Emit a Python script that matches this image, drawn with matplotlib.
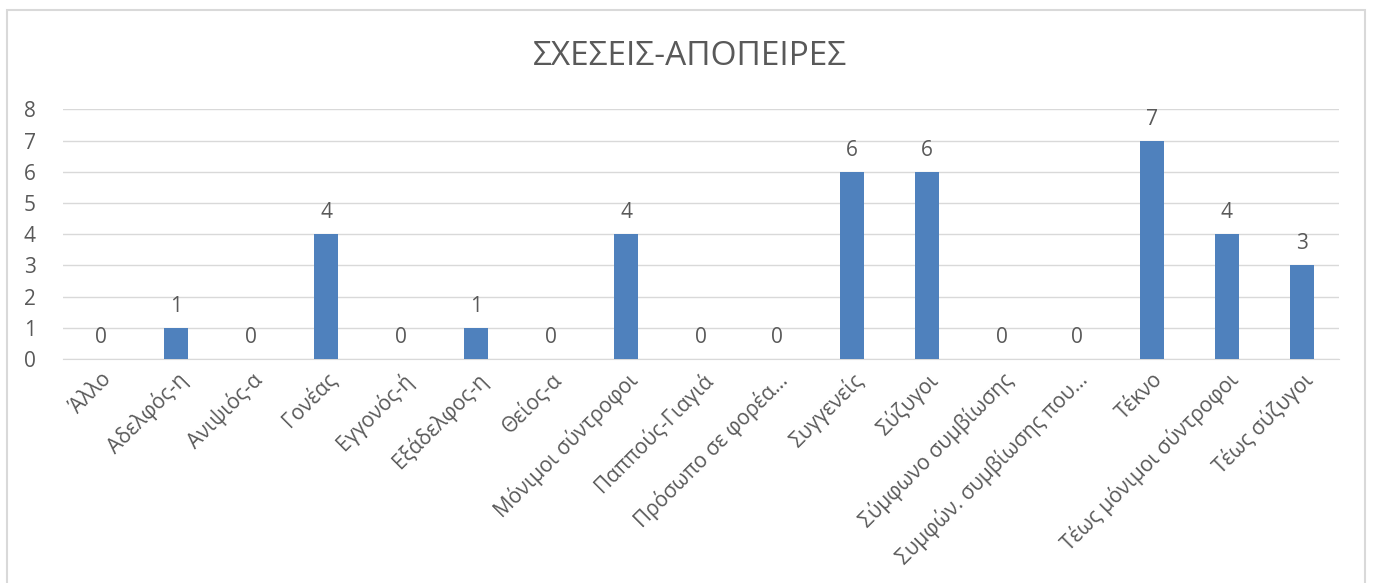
import matplotlib
matplotlib.use('Agg')
import matplotlib.pyplot as plt
from matplotlib.patches import Rectangle

plt.rcParams['font.family'] = ['Open Sans', 'DejaVu Sans']

categories = ['Άλλο', 'Αδελφός-η', 'Ανιψιός-α', 'Γονέας', 'Εγγονός-ή', 'Εξάδελφος-η',
              'Θείος-α', 'Μόνιμοι σύντροφοι', 'Παππούς-Γιαγιά', 'Πρόσωπο σε φορέα…',
              'Συγγενείς', 'Σύζυγοι', 'Σύμφωνο συμβίωσης', 'Συμφών. συμβίωσης που…',
              'Τέκνο', 'Τέως μόνιμοι σύντροφοι', 'Τέως σύζυγοι']
values = [0, 1, 0, 4, 0, 1, 0, 4, 0, 0, 6, 6, 0, 0, 7, 4, 3]
yticks = [0, 1, 2, 3, 4, 5, 6, 7, 8]

TXT = '#595959'
GRID = '#d9d9d9'
BAR = '#4f81bd'

fig = plt.figure(figsize=(13.76, 5.83), dpi=100)
ax = fig.add_axes([0.0461, 0.3842, 0.9273, 0.428])

# chart frame
fig.patches.append(Rectangle((7 / 1376, -0.05), (1365 - 7) / 1376, 1.05 - 10 / 583,
                             transform=fig.transFigure, fill=False,
                             edgecolor=GRID, linewidth=1.5))

x = list(range(len(categories)))
ax.bar(x, values, width=0.32, color=BAR, zorder=3)

for xi, v in zip(x, values):
    ax.annotate(str(v), xy=(xi, v), xytext=(0, 8), textcoords='offset points',
                ha='center', va='bottom', fontsize=15, color=TXT)

ax.set_xlim(-0.5, len(categories) - 0.5)
ax.set_ylim(0, 8)
ax.set_yticks(yticks)
ax.yaxis.grid(True, color=GRID, linewidth=1)
ax.set_axisbelow(True)
for s in ['top', 'right', 'left']:
    ax.spines[s].set_visible(False)
ax.spines['bottom'].set_color(GRID)
ax.tick_params(axis='both', length=0, labelsize=15, colors=TXT)
ax.tick_params(axis='y', pad=20)
ax.set_xticks(x)
ax.set_xticklabels(categories, rotation=45, ha='right', rotation_mode='anchor')
ax.tick_params(axis='x', pad=7)

fig.text(0.5015, 0.903, 'ΣΧΕΣΕΙΣ-ΑΠΟΠΕΙΡΕΣ', ha='center', va='center',
         fontsize=24, color=TXT)

fig.savefig('out.png', dpi=100)
